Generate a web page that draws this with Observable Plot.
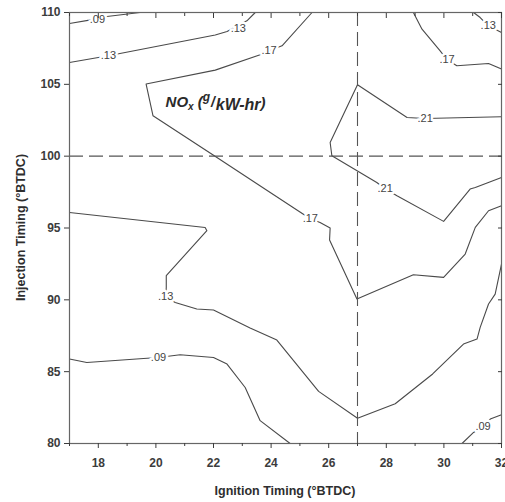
<!DOCTYPE html>
<html><head><meta charset="utf-8">
<script src="https://cdn.jsdelivr.net/npm/d3@7"></script>
<script src="https://cdn.jsdelivr.net/npm/@observablehq/plot@0.6"></script>
<style>
body{margin:0;background:#fff;}
svg{font-family:"Liberation Sans",Arial,sans-serif;}
</style>
</head><body><div id="chart"></div>
<script>
// Contour paths: [ignition timing, injection timing]
const c09_topLeft = [[17,109.23],[17.69,109.47],[18.30,109.72],[19.45,110]];
const c13_topLeft = [[17,106.52],[18.35,106.99],[22.06,108.43],[22.47,108.68],[23.16,109.42],[23.45,110]];
const c17_main = [[25.42,110],[24.38,107.68],[23.93,107.33],[23.62,107.06],[22.06,105.99],[19.66,105.02],[19.90,102.81],[22.12,99.91],[23.97,97.47],[25.36,95.64],[25.70,95.39],[26.05,95.0],[26.03,94.16],[26.98,90.06],[28.94,91.75],[29.99,91.56],[30.74,93.19],[31.09,95.04],[31.55,96.20],[32,96.55]];
const c21_main = [[32,102.74],[29.35,102.62],[28.72,102.69],[27.0,104.97],[26.05,100.95],[26.11,100.03],[27.67,98.17],[27.96,97.73],[28.37,97.24],[29.99,95.46],[30.91,97.71],[31.09,97.82],[32,98.52]];
const c17_topRight = [[28.94,110],[29.24,108.84],[29.87,107.33],[30.11,106.71],[30.45,106.29],[31.55,106.45],[32,106.06]];
const c13_topRight = [[31.03,110],[31.26,109.65],[31.54,109.07],[32,108.61]];
const c13_main = [[17,96.08],[21.71,95.04],[21.77,94.81],[20.36,91.68],[20.36,90.86],[20.34,90.22],[20.67,89.82],[21.42,89.36],[22.0,89.29],[23.27,88.04],[24.20,87.20],[25.65,83.63],[27.0,81.76],[28.31,82.77],[29.61,84.84],[30.68,86.92],[31.15,87.27],[31.26,88.08],[31.55,89.71],[31.78,90.40],[32,92.49]];
const c09_bottomLeft = [[17,85.88],[17.60,85.64],[19.57,85.92],[20.09,85.99],[20.84,86.18],[22.0,85.99],[22.47,85.53],[23.10,83.90],[23.62,81.59],[24.66,80]];
const c09_bottomRight = [[30.63,80],[31.03,80.77],[31.36,81.16],[31.61,81.70],[32,82.0]];

// Contour labels
const labelText = [".09", ".13", ".13", ".17", ".17", ".17", ".21", ".21", ".13", ".13", ".09", ".09"];
const labelX =    [17.97, 18.35, 22.86, 23.93, 30.11, 25.36, 29.35, 27.96, 31.54, 20.34, 20.09, 31.36];
const labelY =    [109.54, 106.99, 108.87, 107.33, 106.71, 95.64, 102.62, 97.73, 109.07, 90.22, 85.99, 81.16];

// Reference lines
const refIgnition = [27];
const refInjection = [100];

// Axes
const xDomain = [17, 32];
const yDomain = [80, 110];
const xMajor = [18, 20, 22, 24, 26, 28, 30, 32];
const xMinor = [17, 19, 21, 23, 25, 27, 29, 31];
const yMajor = [80, 85, 90, 95, 100, 105, 110];
const xTitle = "Ignition Timing (°BTDC)";
const yTitle = "Injection Timing (°BTDC)";
const titlePos = [22.09, 103.37];

const paths = {c09_topLeft, c13_topLeft, c17_main, c21_main, c17_topRight, c13_topRight, c13_main, c09_bottomLeft, c09_bottomRight};
const rows = [];
for (const [id, pts] of Object.entries(paths)) for (const [x, y] of pts) rows.push({id, x, y});
const labels = labelText.map((t, i) => ({t, x: labelX[i], y: labelY[i]}));

const blank = () => "";
const plot = Plot.plot({
  width: 505, height: 502,
  marginLeft: 69, marginRight: 4, marginTop: 12, marginBottom: 59,
  x: {domain: xDomain, label: null},
  y: {domain: yDomain, label: null},
  style: {color: "#3c3c3c", background: "white", fontFamily: "'Liberation Sans', Arial, sans-serif"},
  marks: [
    Plot.line(rows, {x: "x", y: "y", z: "id", stroke: "#4a4a4a", strokeWidth: 1.1}),
    Plot.text(labels, {x: "x", y: "y", text: "t", fill: "#444", stroke: "white", strokeWidth: 5, fontSize: 11}),
    Plot.ruleX(refIgnition, {stroke: "#555", strokeWidth: 1.1, strokeDasharray: "14,6"}),
    Plot.ruleY(refInjection, {stroke: "#555", strokeWidth: 1.1, strokeDasharray: "14,6"}),
    Plot.frame({stroke: "#666", strokeWidth: 1.2}),
    Plot.axisX({anchor: "bottom", ticks: xMajor, tickSize: 5, tickPadding: 10, fontSize: 12, fontWeight: "bold", label: null}),
    Plot.axisX({anchor: "bottom", ticks: xMinor, tickSize: 3, tickFormat: blank, label: null}),
    Plot.axisX({anchor: "top", ticks: xMajor, tickSize: -5, tickFormat: blank, label: null}),
    Plot.axisX({anchor: "top", ticks: xMinor, tickSize: -3, tickFormat: blank, label: null}),
    Plot.axisY({anchor: "left", ticks: yMajor, tickSize: 5, tickPadding: 4, fontSize: 12, fontWeight: "bold", label: null}),
    Plot.axisY({anchor: "right", ticks: yMajor, tickSize: -4, tickFormat: blank, label: null})
  ]
});
document.getElementById("chart").appendChild(plot);

const sx = plot.scale("x"), sy = plot.scale("y");
const svg = d3.select(plot);
const cx = (sx.apply(xDomain[0]) + sx.apply(xDomain[1])) / 2;
const cy = (sy.apply(yDomain[0]) + sy.apply(yDomain[1])) / 2;
svg.append("text").attr("x", cx).attr("y", 491).attr("dy", "0.35em")
  .attr("text-anchor", "middle").attr("font-size", 12.5).attr("font-weight", "bold").attr("fill", "#2e2e2e").text(xTitle);
svg.append("text").attr("transform", `translate(21,${cy}) rotate(-90)`).attr("dy", "0.35em")
  .attr("text-anchor", "middle").attr("font-size", 12.5).attr("font-weight", "bold").attr("fill", "#2e2e2e").text(yTitle);

const t = svg.append("text").attr("x", sx.apply(titlePos[0])).attr("y", sy.apply(titlePos[1]))
  .attr("font-weight", "bold").attr("font-style", "italic").attr("fill", "#2a2a2a").attr("font-size", 15);
t.append("tspan").text("NO");
t.append("tspan").attr("font-size", 10).attr("dy", 3).text("x");
t.append("tspan").attr("dy", -3).attr("dx", 4).text("(");
t.append("tspan").attr("font-size", 12).attr("dy", -6).text("g");
t.append("tspan").attr("font-size", 14).attr("dy", 6).attr("dx", 1).text("/");
t.append("tspan").attr("font-size", 16).attr("dy", 3).attr("dx", 1).text("kW-hr");
t.append("tspan").attr("font-size", 15).attr("dy", -2).text(")");
</script>
</body></html>
